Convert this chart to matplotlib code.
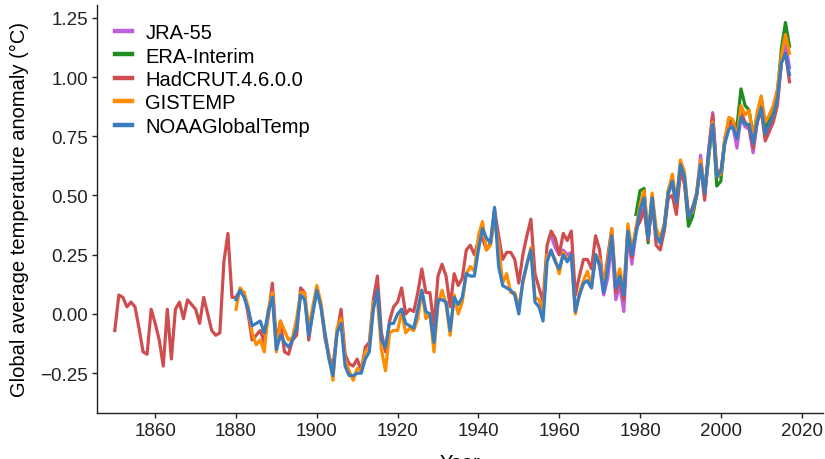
import numpy as np
import matplotlib
matplotlib.use("Agg")
import matplotlib.pyplot as plt

plt.rcParams['font.family'] = ['Liberation Sans', 'DejaVu Sans']

# ---- data (anomaly, degC) ----
had_start = 1850
hadcrut = [
    -0.07, 0.08, 0.07, 0.03, 0.05, 0.03, -0.06, -0.16, -0.17, 0.02,
    -0.04, -0.11, -0.22, 0.02, -0.19, 0.02, 0.05, -0.02, 0.06, 0.04,
    0.02, -0.04, 0.07, 0.00, -0.07, -0.09, -0.08, 0.22, 0.34, 0.07,
    0.07, 0.10, 0.09, 0.00, -0.11, -0.09, -0.07, -0.12, -0.01, 0.13,
    -0.12, -0.03, -0.16, -0.17, -0.11, -0.09, 0.11, 0.09, -0.11, 0.01,
    0.10, 0.04, -0.10, -0.18, -0.22, -0.08, 0.02, -0.17, -0.21, -0.22,
    -0.19, -0.24, -0.14, -0.12, 0.06, 0.16, -0.08, -0.16, -0.03, 0.03,
    0.05, 0.11, 0.00, 0.02, 0.01, 0.09, 0.19, 0.09, 0.09, -0.05,
    0.16, 0.21, 0.16, 0.03, 0.17, 0.12, 0.15, 0.27, 0.29, 0.25,
    0.31, 0.32, 0.27, 0.30, 0.44, 0.33, 0.23, 0.26, 0.26, 0.23,
    0.13, 0.25, 0.33, 0.40, 0.17, 0.11, 0.05, 0.29, 0.35, 0.32,
    0.25, 0.34, 0.31, 0.35, 0.08, 0.16, 0.23, 0.23, 0.19, 0.33,
    0.27, 0.11, 0.24, 0.36, 0.09, 0.15, 0.06, 0.35, 0.24, 0.36,
    0.39, 0.44, 0.31, 0.49, 0.29, 0.27, 0.35, 0.49, 0.50, 0.42,
    0.60, 0.55, 0.41, 0.45, 0.51, 0.63, 0.48, 0.69, 0.84, 0.61,
    0.59, 0.74, 0.80, 0.81, 0.75, 0.85, 0.81, 0.79, 0.70, 0.81,
    0.86, 0.73, 0.77, 0.81, 0.88, 1.06, 1.10, 0.98,
]

gis_start = 1880
gistemp = [
    0.02, 0.11, 0.09, 0.03, -0.08, -0.13, -0.11, -0.16, 0.02, 0.09,
    -0.16, -0.03, -0.07, -0.11, -0.10, -0.02, 0.09, 0.09, -0.06, 0.03,
    0.12, 0.05, -0.08, -0.17, -0.28, -0.06, -0.02, -0.19, -0.24, -0.28,
    -0.23, -0.24, -0.16, -0.14, 0.05, 0.06, -0.15, -0.24, -0.08, -0.07,
    -0.07, 0.01, -0.08, -0.06, -0.07, -0.02, 0.10, -0.02, 0.00, -0.16,
    0.04, 0.10, 0.04, -0.09, 0.08, 0.00, 0.05, 0.17, 0.20, 0.18,
    0.33, 0.39, 0.27, 0.29, 0.40, 0.29, 0.13, 0.17, 0.09, 0.09,
    0.03, 0.13, 0.21, 0.28, 0.07, 0.06, 0.01, 0.25, 0.26, 0.23,
    0.17, 0.26, 0.23, 0.25, 0.00, 0.09, 0.14, 0.18, 0.12, 0.25,
    0.23, 0.12, 0.21, 0.36, 0.13, 0.19, 0.10, 0.38, 0.27, 0.36,
    0.46, 0.52, 0.34, 0.51, 0.36, 0.32, 0.38, 0.52, 0.59, 0.47,
    0.65, 0.60, 0.42, 0.43, 0.51, 0.65, 0.53, 0.66, 0.81, 0.58,
    0.59, 0.74, 0.83, 0.82, 0.74, 0.88, 0.84, 0.86, 0.74, 0.85,
    0.92, 0.81, 0.84, 0.88, 0.95, 1.09, 1.18, 1.10,
]

noaa_start = 1880
noaa = [
    0.06, 0.10, 0.07, 0.02, -0.05, -0.04, -0.03, -0.08, 0.01, 0.07,
    -0.15, -0.09, -0.12, -0.14, -0.11, -0.06, 0.08, 0.06, -0.09, 0.00,
    0.10, 0.03, -0.08, -0.19, -0.26, -0.08, -0.04, -0.22, -0.26, -0.26,
    -0.25, -0.25, -0.19, -0.16, 0.02, 0.10, -0.11, -0.14, -0.04, -0.04,
    0.00, 0.02, -0.04, -0.05, -0.06, 0.02, 0.10, 0.01, 0.00, -0.12,
    0.06, 0.06, 0.05, -0.07, 0.07, 0.04, 0.07, 0.17, 0.16, 0.16,
    0.27, 0.36, 0.32, 0.30, 0.45, 0.20, 0.12, 0.11, 0.10, 0.08,
    0.00, 0.14, 0.21, 0.27, 0.05, 0.03, -0.03, 0.22, 0.27, 0.22,
    0.19, 0.25, 0.22, 0.25, 0.01, 0.08, 0.13, 0.14, 0.11, 0.25,
    0.21, 0.09, 0.19, 0.33, 0.11, 0.16, 0.08, 0.35, 0.25, 0.34,
    0.44, 0.49, 0.32, 0.49, 0.33, 0.30, 0.37, 0.51, 0.56, 0.47,
    0.63, 0.58, 0.41, 0.44, 0.50, 0.63, 0.51, 0.68, 0.80, 0.58,
    0.60, 0.72, 0.78, 0.79, 0.74, 0.83, 0.80, 0.80, 0.72, 0.81,
    0.87, 0.76, 0.80, 0.84, 0.91, 1.06, 1.10, 1.01,
]

jra_start = 1958
jra55 = [
    0.33, 0.28,
    0.25, 0.27, 0.25, 0.26, 0.02, 0.08, 0.13, 0.14, 0.11, 0.25,
    0.20, 0.08, 0.15, 0.30, 0.06, 0.12, 0.01, 0.33, 0.21, 0.34,
    0.42, 0.48, 0.32, 0.48, 0.33, 0.30, 0.36, 0.51, 0.55, 0.46,
    0.61, 0.57, 0.40, 0.43, 0.50, 0.67, 0.50, 0.69, 0.85, 0.58,
    0.58, 0.73, 0.80, 0.79, 0.70, 0.83, 0.79, 0.78, 0.68, 0.81,
    0.87, 0.75, 0.78, 0.83, 0.90, 1.07, 1.14, 1.04,
]

era_start = 1979
era_interim = [
    0.42,
    0.52, 0.53, 0.30, 0.50, 0.33, 0.31, 0.37, 0.52, 0.57, 0.45,
    0.60, 0.56, 0.37, 0.41, 0.50, 0.63, 0.51, 0.66, 0.82, 0.54,
    0.56, 0.73, 0.82, 0.81, 0.79, 0.95, 0.88, 0.86, 0.75, 0.84,
    0.91, 0.78, 0.82, 0.85, 0.93, 1.12, 1.23, 1.13,
]

series = [
    ("JRA-55", jra_start, jra55, "#c05ee0"),
    ("ERA-Interim", era_start, era_interim, "#1e8c1e"),
    ("HadCRUT.4.6.0.0", had_start, hadcrut, "#cf4d4f"),
    ("GISTEMP", gis_start, gistemp, "#ff8c00"),
    ("NOAAGlobalTemp", noaa_start, noaa, "#3a7dbf"),
]

yticks = [-0.25, 0.00, 0.25, 0.50, 0.75, 1.00, 1.25]
xticks = [1860, 1880, 1900, 1920, 1940, 1960, 1980, 2000, 2020]

fig = plt.figure(figsize=(8.25, 4.6), dpi=100)
ax = fig.add_axes([0.1176, 0.100, 0.880, 0.887])

for name, start, vals, col in series:
    yrs = np.arange(start, start + len(vals))
    ax.plot(yrs, vals, color=col, lw=2.3, label=name, solid_joinstyle='round')

ax.set_xlim(1845.6, 2025.3)
ax.set_ylim(-0.418, 1.304)
ax.set_xticks(xticks)
ax.set_yticks(yticks)
ax.set_yticklabels([f"{v:.2f}".replace("-", "\u2212") for v in yticks])

for s in ["top", "right"]:
    ax.spines[s].set_visible(False)
for s in ["left", "bottom"]:
    ax.spines[s].set_linewidth(1.0)
    ax.spines[s].set_color("#222222")

ax.tick_params(axis="both", labelsize=13.5, length=3.5, width=1.0, pad=3, colors="#222222")
ax.set_ylabel("Global average temperature anomaly (\u00b0C)", fontsize=14.5, labelpad=8)
ax.set_xlabel("Year", fontsize=14.5, labelpad=10)

leg = ax.legend(loc="upper left", bbox_to_anchor=(0.0, 1.0), frameon=False,
                fontsize=14.5, handlelength=0.85, handletextpad=0.65,
                labelspacing=0.22, borderpad=0.9, borderaxespad=0.0)
for h in leg.legend_handles:
    h.set_linewidth(3.2)

fig.savefig("out.png", dpi=100)
